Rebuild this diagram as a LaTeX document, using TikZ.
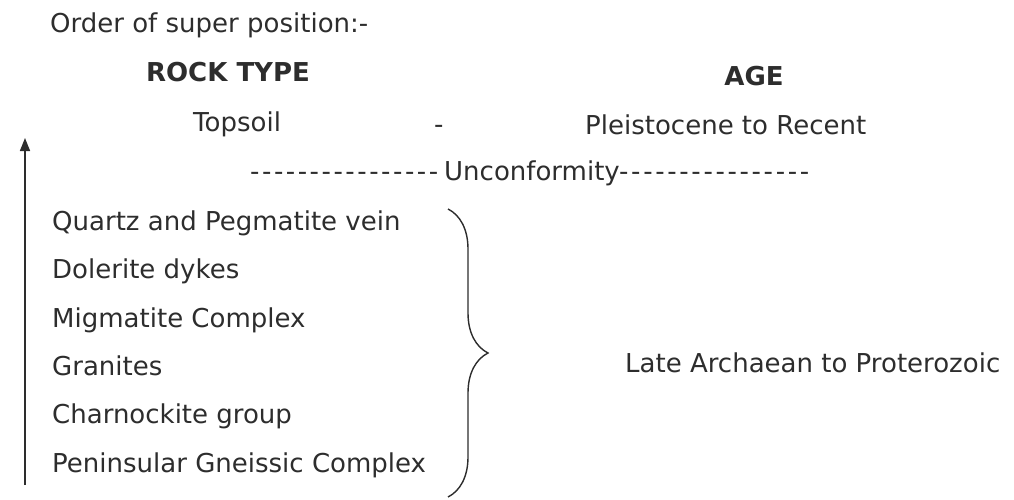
\documentclass[tikz,border=0pt]{standalone}
\usepackage{fontspec}
\setmainfont{DejaVu Sans}
\usetikzlibrary{decorations.pathreplacing,arrows.meta}
\definecolor{ink}{RGB}{45,45,45}
\newcommand\dashrun[1]{\hbox to #1{-\hfill-\hfill-\hfill-\hfill-\hfill-\hfill-\hfill-\hfill-\hfill-\hfill-\hfill-\hfill-\hfill-\hfill-\hfill-}}
\tikzset{
  txt/.style={anchor=base west, inner sep=0pt, text=ink, font=\fontsize{26}{30}\selectfont},
  hdr/.style={anchor=base, inner sep=0pt, text=ink, font=\fontsize{26}{30}\selectfont\bfseries},
}
\begin{document}
\begin{tikzpicture}[x=1pt,y=1pt]
\useasboundingbox (0,0) rectangle (1014,499);
\node[txt] (title) at (50,466) {Order of super position:-};
\node[hdr] (rock) at (228,417) {ROCK TYPE};
\node[hdr] (age) at (754,413) {AGE};
\node[txt] (top) at (193,367) {Topsoil};
\node[txt] (dash) at (434,365) {-};
\node[txt] (pleis) at (585,364) {Pleistocene to Recent};
\node[txt] (uncl) at (250,319) {\dashrun{188pt}};
\node[txt] (unc) at (444,319) {Unconformity};
\node[txt] (uncr) at (619,319) {\dashrun{190pt}};
\node[txt] (q) at (52,269) {Quartz and Pegmatite vein};
\node[txt] (d) at (52,221) {Dolerite dykes};
\node[txt] (m) at (52,172) {Migmatite Complex};
\node[txt] (g) at (52,124) {Granites};
\node[txt] (c) at (52,76) {Charnockite group};
\node[txt] (p) at (52,27) {Peninsular Gneissic Complex};
\node[txt] (late) at (625,127) {Late Archaean to Proterozoic};
\coordinate (abot) at (25,14);
\coordinate (atop) at (25,361);
\draw[ink, line width=1.5pt, -{Triangle[length=13pt,width=10pt]}] (abot) -- (atop);
\coordinate (btop) at (448,290);
\coordinate (bbot) at (448,2);
\draw[ink, line width=1.4pt, decorate, decoration={brace, amplitude=40pt}] (btop) -- (bbot);
\end{tikzpicture}
\end{document}
